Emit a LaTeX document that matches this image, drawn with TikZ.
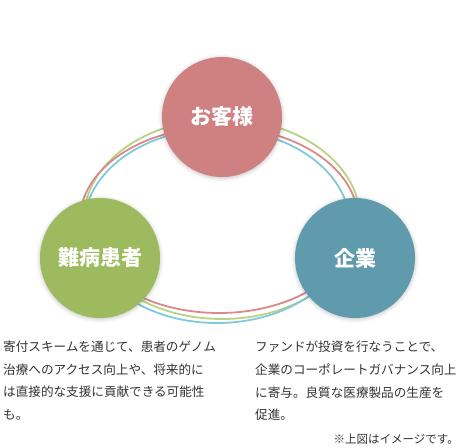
\documentclass[tikz,border=0pt]{standalone}
\usepackage{fontspec}
\setmainfont{Noto Sans CJK JP}
\usetikzlibrary{shadows.blur}

\definecolor{okyakuRed}{HTML}{CF8080}
\definecolor{kanjaGreen}{HTML}{9DBA5E}
\definecolor{kigyoBlue}{HTML}{5F9BAC}
\definecolor{senGreen}{HTML}{B8D383}
\definecolor{senRed}{HTML}{DA8888}
\definecolor{senBlue}{HTML}{82C8DD}
\definecolor{moji}{HTML}{333333}

\begin{document}
\begin{tikzpicture}[x=1pt, y=-1pt,
    maru/.style={circle, minimum size=120pt, inner sep=0pt, text=white,
        font=\fontsize{21}{21}\selectfont\bfseries,
        blur shadow={shadow xshift=0pt, shadow yshift=-1pt,
            shadow blur radius=4pt, shadow opacity=25}},
    setsumei/.style={align=left, inner sep=0pt, text=moji,
        font=\fontsize{12.6}{22.6}\selectfont},
    sen/.style={line width=1.8pt}]

        \useasboundingbox (0,0) rectangle (465,447);

        % 1. Le tre linee che girano attorno
        \draw[sen, senGreen] (222,219) ellipse [x radius=138, y radius=100];
        \draw[sen, senRed]   (219,220) ellipse [x radius=139, y radius=93];
        \draw[sen, senBlue]  (217,226) ellipse [x radius=133, y radius=97];

        % 2. I tre cerchi
        \node[maru, fill=okyakuRed]  (okyaku) at (222,117) {お客様};
        \node[maru, fill=kanjaGreen] (kanja)  at (100,258) {難病患者};
        \node[maru, fill=kigyoBlue]  (kigyo)  at (355,258) {企業};

        % 3. Le descrizioni sotto
        \node[setsumei, anchor=north west] (kanjaText) at (3,341)
            {寄付スキームを通じて、患者のゲノム\\治療へのアクセス向上や、将来的に\\は直接的な支援に貢献できる可能性\\も。};
        \node[setsumei, anchor=north west] (kigyoText) at (255,341)
            {ファンドが投資を行なうことで、\\企業のコーポレートガバナンス向上\\に寄与。良質な医療製品の生産を\\促進。};

        % 4. Nota in basso a destra
        \node[text=moji, inner sep=0pt, anchor=east,
            font=\fontsize{11.5}{11.5}\selectfont] (chui) at (459,439) {※上図はイメージです。};
    \end{tikzpicture}
\end{document}
